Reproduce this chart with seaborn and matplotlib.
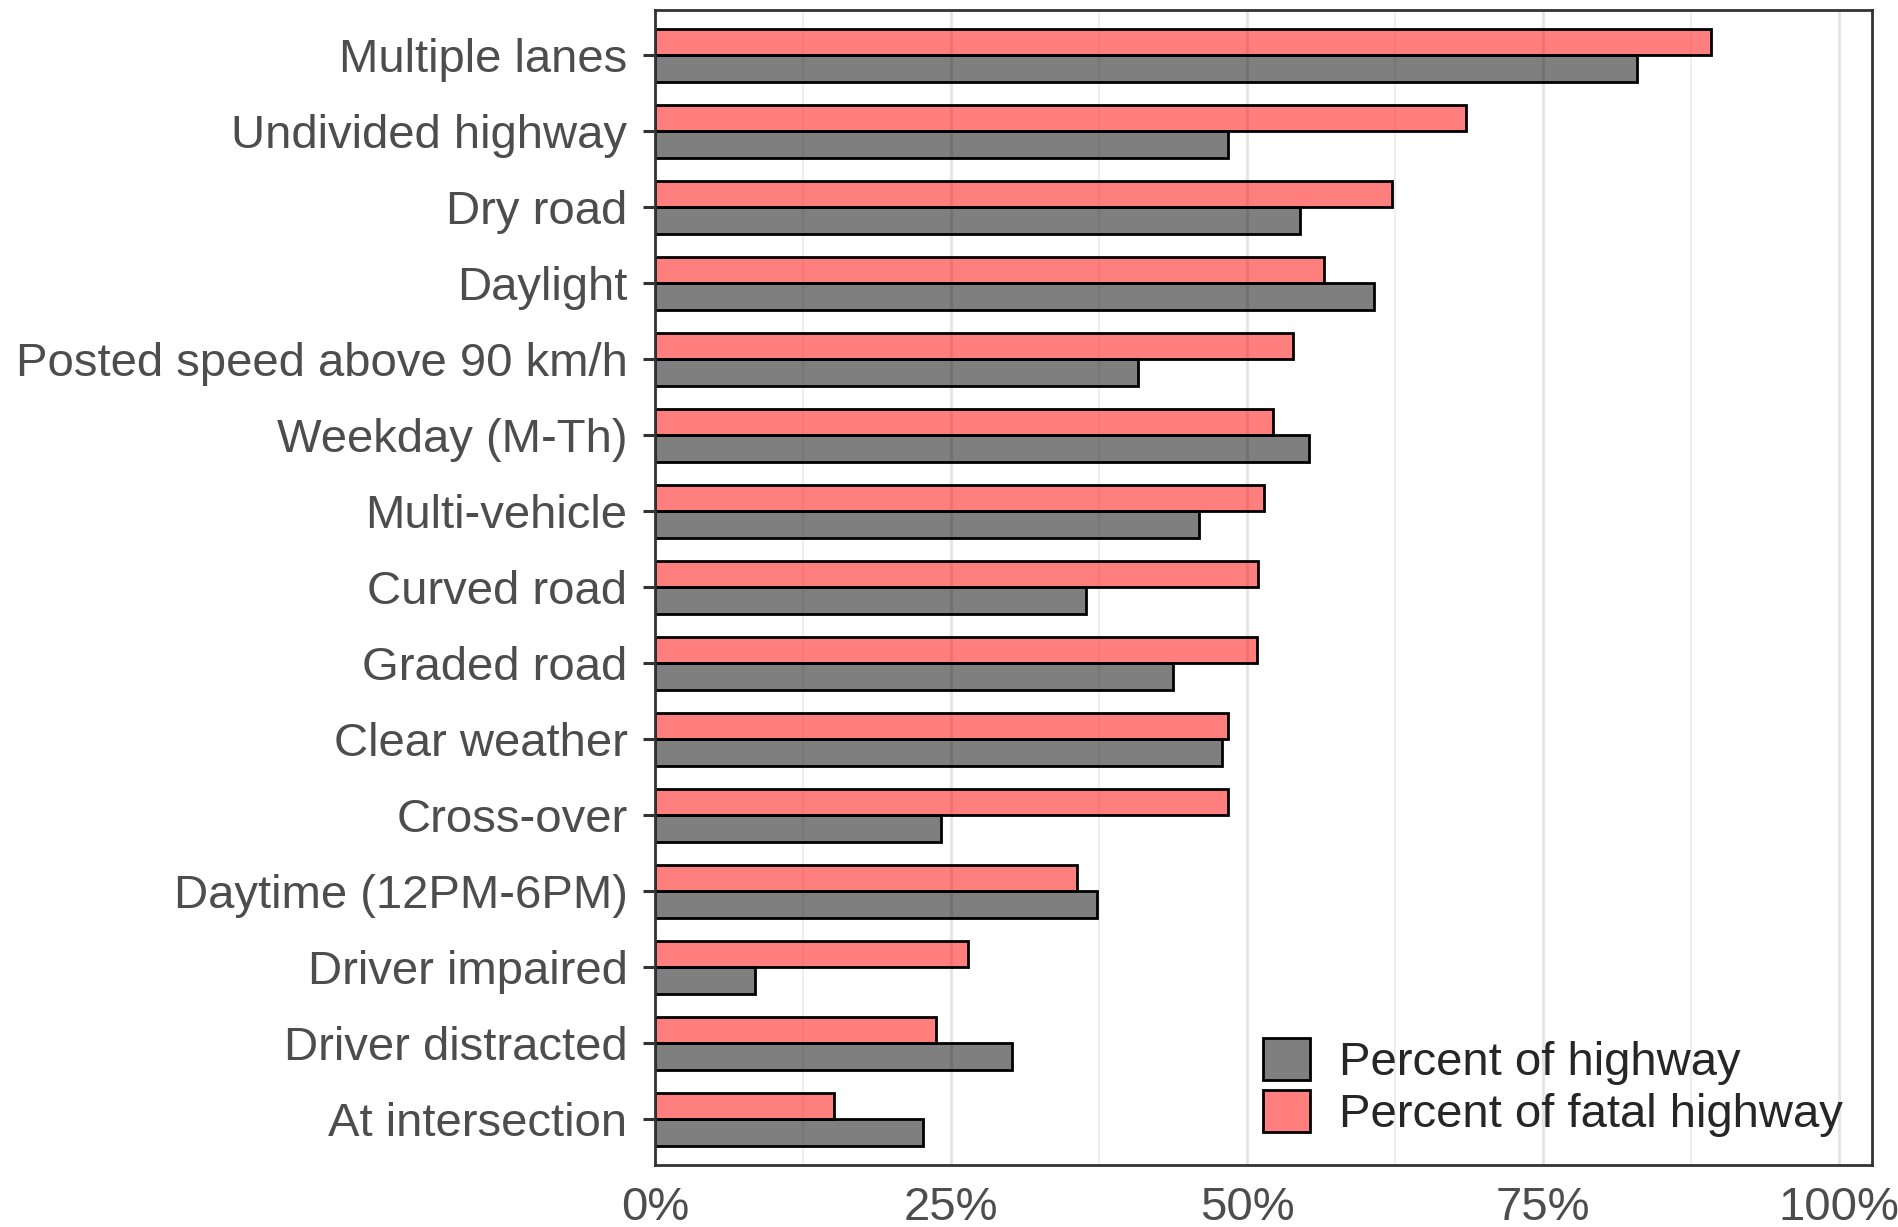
import pandas as pd
import matplotlib
matplotlib.use("Agg")
import matplotlib.pyplot as plt
from matplotlib.ticker import MultipleLocator, PercentFormatter
from matplotlib.patches import Patch
import seaborn as sns

# crash characteristics, ordered top to bottom
categories = [
    "Multiple lanes", "Undivided highway", "Dry road", "Daylight",
    "Posted speed above 90 km/h", "Weekday (M-Th)", "Multi-vehicle",
    "Curved road", "Graded road", "Clear weather", "Cross-over",
    "Daytime (12PM-6PM)", "Driver impaired", "Driver distracted",
    "At intersection",
]
pct_highway = [82.9, 48.4, 54.5, 60.7, 40.8, 55.2, 45.9, 36.4, 43.7, 47.9,
               24.1, 37.3, 8.4, 30.1, 22.6]
pct_fatal = [89.2, 68.5, 62.2, 56.5, 53.9, 52.2, 51.4, 50.9, 50.8, 48.4,
             48.4, 35.6, 26.4, 23.7, 15.1]
series = ["Percent of highway", "Percent of fatal highway"]

df = pd.DataFrame({
    "category": categories * 2,
    "value": pct_highway + pct_fatal,
    "series": [series[0]] * len(categories) + [series[1]] * len(categories),
})

colors = {series[0]: (0.0, 0.0, 0.0, 0.5), series[1]: (1.0, 0.0, 0.0, 0.5)}

sns.set_theme(style="white")
plt.rcParams["font.family"] = ["Liberation Sans", "DejaVu Sans"]

fig = plt.figure(figsize=(18.99, 12.27), dpi=100)
ax = fig.add_axes([0.345, 0.0505, 0.641, 0.9415])

# fatal first so it sits above the highway bar in each pair
sns.barplot(data=df, x="value", y="category", hue="series", orient="h",
            order=categories, hue_order=[series[1], series[0]],
            palette={s: "grey" for s in series}, width=0.7, gap=0,
            edgecolor="black", linewidth=2.0, legend=False, ax=ax)

for patch in ax.patches:
    y = patch.get_y() + patch.get_height() / 2
    idx = round(y)
    # upper half of a slot is fatal, lower half is highway
    patch.set_facecolor(colors[series[1]] if y < idx else colors[series[0]])
    patch.set_edgecolor("black")

ax.set_xlim(0, 102.8)
ax.set_ylim(len(categories) - 0.4, -0.6)
ax.xaxis.set_major_locator(MultipleLocator(25))
ax.xaxis.set_minor_locator(MultipleLocator(12.5))
ax.xaxis.set_major_formatter(PercentFormatter(xmax=100, decimals=0))
ax.set_axisbelow(True)
ax.grid(axis="x", which="major", color="#E5E5E5", linewidth=2.2)
ax.grid(axis="x", which="minor", color="#EBEBEB", linewidth=1.2)
ax.grid(axis="y", visible=False)

ax.set_xlabel("")
ax.set_ylabel("")
ax.tick_params(axis="both", which="major", labelsize=34, colors="#333333",
               labelcolor="#4D4D4D", length=9, width=2.2, direction="out")
ax.tick_params(axis="x", which="major", pad=6)
ax.tick_params(axis="y", which="major", pad=11, left=True)
ax.tick_params(axis="x", which="minor", length=0)
for spine in ax.spines.values():
    spine.set_visible(True)
    spine.set_color("#333333")
    spine.set_linewidth(2.0)

handles = [Patch(facecolor=colors[s], edgecolor="black", linewidth=2.0) for s in series]
ax.legend(handles, series, loc="lower right", bbox_to_anchor=(0.976, 0.024),
          frameon=False, fontsize=34, handlelength=1.0, handleheight=1.0,
          handletextpad=0.62, labelspacing=0.1, borderpad=0, borderaxespad=0)

fig.savefig("out.png", dpi=100)
